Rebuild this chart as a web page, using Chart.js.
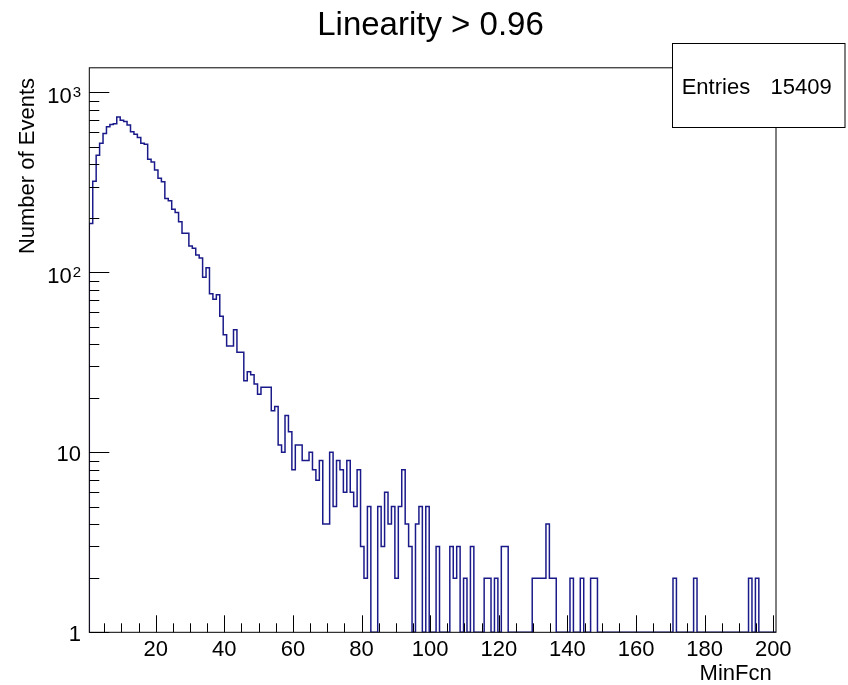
<!DOCTYPE html>
<html>
<head>
<meta charset="utf-8">
<script src="https://cdn.jsdelivr.net/npm/chart.js@4.4.1/dist/chart.umd.min.js"></script>
<style>
  html, body { margin: 0; padding: 0; background: #fff; }
  #wrap { width: 848px; height: 685px; }
</style>
</head>
<body>
<div id="wrap"><canvas id="c" width="848" height="685"></canvas></div>
<script>
// ---- data ----
const chartTitle = 'Linearity > 0.96';
const xTitle = 'MinFcn';
const yTitle = 'Number of Events';
const entries = 15409;
const xMin = 0.64;
const xMax = 200.8;
const counts = [
  187, 321, 448, 522, 592, 644, 664, 670, 731, 700,
  690, 658, 604, 585, 562, 521, 515, 425, 411, 370,
  333, 319, 257, 250, 224, 215, 191, 165, 165, 140,
  136, 125, 120, 94, 106, 76, 71, 75, 57, 45,
  39, 39, 48, 36, 36, 25, 28, 27, 24, 21,
  23, 23, 23, 17, 18, 11, 10, 16, 13, 8,
  11, 11, 9, 9, 10, 8, 7, 9, 4, 4,
  10, 5, 9, 8, 6, 9, 6, 5, 8, 3,
  2, 5, 0, 0, 5, 3, 6, 4, 5, 2,
  5, 8, 4, 3, 0, 4, 5, 0, 5, 0,
  0, 3, 0, 0, 0, 3, 2, 3, 0, 2,
  0, 3, 0, 0, 0, 2, 2, 0, 2, 0,
  3, 3, 0, 0, 0, 0, 0, 0, 0, 2,
  2, 2, 2, 4, 2, 2, 0, 0, 0, 0,
  2, 0, 0, 2, 0, 0, 2, 2, 0, 0,
  0, 0, 0, 0, 0, 0, 0, 0, 0, 0,
  0, 0, 0, 0, 0, 0, 0, 0, 0, 0,
  2, 0, 0, 0, 0, 0, 2, 0, 0, 0,
  0, 0, 0, 0, 0, 0, 0, 0, 0, 0,
  0, 0, 2, 0, 2, 0, 0, 0, 0, 0
];
const xTicks = [20, 40, 60, 80, 100, 120, 140, 160, 180, 200];
const xMinorStep = 5;
const yMin = 1;
const yMax = 1370;
const yTicks = [1, 10, 100, 1000];
const yTickLabels = ['1', '10', '10\u00B2', '10\u00B3'];

// ---- build step outline from the bins ----
const nBins = counts.length;
const binW = (xMax - xMin) / nBins;
const points = [{ x: xMin, y: yMin }];
counts.forEach((c, i) => points.push({ x: xMin + i * binW, y: Math.max(c, yMin) }));
points.push({ x: xMax, y: Math.max(counts[nBins - 1], yMin) });
points.push({ x: xMax, y: yMin });

const FONT = "'Liberation Sans', Arial, Helvetica, sans-serif";
const SUP = { '\u00B2': '2', '\u00B3': '3' };

const decorPlugin = {
  id: 'decor',
  afterDraw(chart) {
    const ctx = chart.ctx;
    const a = chart.chartArea;
    const xs = chart.scales.x, ys = chart.scales.y;
    ctx.save();
    ctx.strokeStyle = '#000';
    ctx.lineWidth = 1;
    // frame
    ctx.strokeRect(a.left, a.top, a.right - a.left, a.bottom - a.top);
    // x ticks (inside)
    ctx.beginPath();
    for (let v = xMinorStep; v <= xMax; v += xMinorStep) {
      if (v < xMin) continue;
      const px = Math.round(xs.getPixelForValue(v)) + 0.5;
      const len = (v % 20 === 0) ? 17 : 9;
      ctx.moveTo(px, a.bottom);
      ctx.lineTo(px, a.bottom - len);
    }
    // y ticks (inside, log)
    for (let d = 1; d <= 1000; d *= 10) {
      for (let m = 1; m <= 9; m++) {
        const v = m * d;
        if (v < yMin || v > yMax) continue;
        const py = Math.round(ys.getPixelForValue(v)) + 0.5;
        const len = (m === 1) ? 20 : 10;
        ctx.moveTo(a.left, py);
        ctx.lineTo(a.left + len, py);
      }
    }
    ctx.stroke();

    // y tick labels (with real superscripts)
    ctx.fillStyle = '#000';
    ctx.textBaseline = 'alphabetic';
    ctx.textAlign = 'right';
    const labelRight = a.left - 8.3;
    yTicks.forEach((v, i) => {
      const py = ys.getPixelForValue(v);
      const lab = yTickLabels[i];
      const last = lab.charAt(lab.length - 1);
      if (SUP[last]) {
        ctx.font = '15px ' + FONT;
        const ex = SUP[last];
        const w = ctx.measureText(ex).width;
        ctx.fillText(ex, labelRight, py + 5);
        ctx.font = '22px ' + FONT;
        ctx.fillText(lab.slice(0, -1), labelRight - w - 1, py + 11);
      } else {
        ctx.font = '22px ' + FONT;
        ctx.fillText(lab, labelRight, py + 9);
      }
    });

    // stats box
    ctx.fillStyle = '#fff';
    ctx.fillRect(672.5, 43.5, 172.5, 84);
    ctx.strokeRect(672.5, 43.5, 172.5, 84);
    ctx.fillStyle = '#000';
    ctx.font = '22px ' + FONT;
    ctx.textAlign = 'left';
    ctx.fillText('Entries', 681.7, 93.5);
    ctx.textAlign = 'right';
    ctx.fillText(String(entries), 831.7, 93.5);

    // title
    ctx.font = '33px ' + FONT;
    ctx.textAlign = 'center';
    ctx.fillText(chartTitle, 430.5, 35);

    // x axis title
    ctx.font = '22px ' + FONT;
    ctx.textAlign = 'right';
    ctx.fillText(xTitle, 771.7, 679.5);

    // y axis title
    ctx.translate(34.3, 78);
    ctx.rotate(-Math.PI / 2);
    ctx.textAlign = 'right';
    ctx.fillText(yTitle, 0, 0);
    ctx.restore();
  }
};

new Chart(document.getElementById('c'), {
  type: 'line',
  data: {
    datasets: [{
      data: points,
      stepped: 'before',
      borderColor: '#1a1a8a',
      borderWidth: 1.5,
      pointRadius: 0,
      fill: false,
      tension: 0
    }]
  },
  options: {
    responsive: false,
    animation: false,
    devicePixelRatio: 1,
    layout: { padding: { left: 0, right: 72, top: 67.8, bottom: 0 } },
    plugins: {
      legend: { display: false },
      title: { display: false },
      tooltip: { enabled: false }
    },
    scales: {
      x: {
        type: 'linear',
        min: xMin,
        max: xMax,
        afterBuildTicks: (s) => { s.ticks = xTicks.map(v => ({ value: v })); },
        afterFit: (s) => { s.height = 685 - 632.3; },
        grid: { display: false, drawTicks: false },
        border: { display: false },
        ticks: {
          autoSkip: false,
          maxRotation: 0,
          padding: 4,
          color: '#000',
          font: { size: 22, family: FONT }
        }
      },
      y: {
        type: 'logarithmic',
        min: yMin,
        max: yMax,
        afterBuildTicks: (s) => { s.ticks = yTicks.map(v => ({ value: v })); },
        afterFit: (s) => { s.width = 89.3; },
        grid: { display: false, drawTicks: false },
        border: { display: false },
        ticks: { display: false, autoSkip: false }
      }
    }
  },
  plugins: [decorPlugin]
});
</script>
</body>
</html>
